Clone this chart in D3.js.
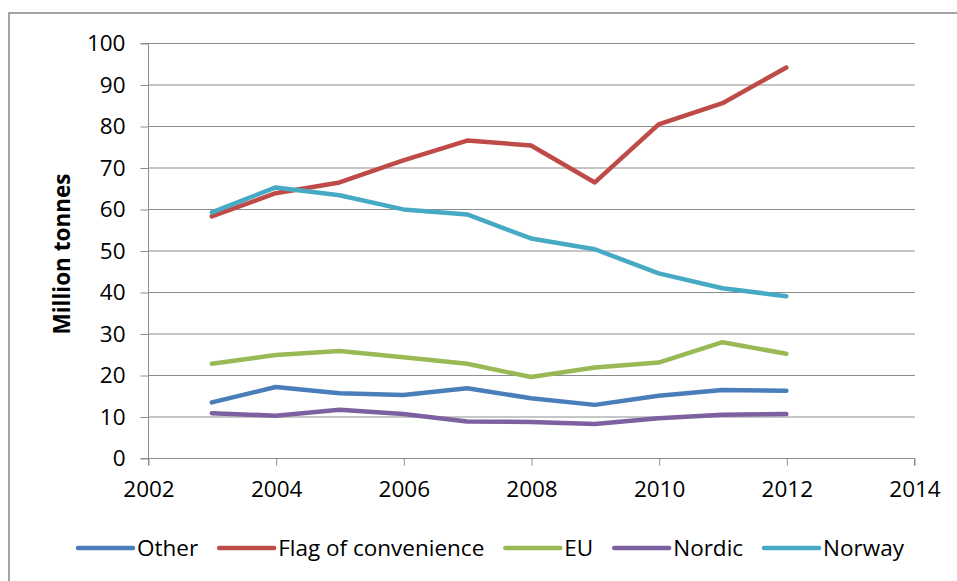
<!DOCTYPE html>
<html lang="en">
<head>
<meta charset="utf-8">
<title>Million tonnes by flag</title>
<script src="https://d3js.org/d3.v7.min.js"></script>
<style>
  body { margin: 0; background: #fff; }
  text { font-family: "Open Sans", sans-serif; fill: #000; }
</style>
</head>
<body>
<svg id="chart" width="957" height="581"></svg>
<script>
// data
var years = [2003, 2004, 2005, 2006, 2007, 2008, 2009, 2010, 2011, 2012];
var other = [13.4, 17.1, 15.6, 15.2, 16.8, 14.4, 12.8, 15.0, 16.4, 16.2];
var flagOfConvenience = [58.2, 63.8, 66.4, 71.7, 76.5, 75.3, 66.4, 80.4, 85.5, 94.1];
var eu = [22.7, 24.8, 25.8, 24.3, 22.7, 19.5, 21.8, 23.0, 27.9, 25.1];
var nordic = [10.8, 10.2, 11.6, 10.6, 8.8, 8.7, 8.2, 9.6, 10.4, 10.6];
var norway = [59.2, 65.2, 63.3, 59.9, 58.7, 52.9, 50.3, 44.5, 40.9, 39.0];

var seriesNames = ['Other', 'Flag of convenience', 'EU', 'Nordic', 'Norway'];
var seriesValues = [other, flagOfConvenience, eu, nordic, norway];
var colors = ['#4a7ebb', '#be4b48', '#98b954', '#7d60a0', '#46aac5'];

var xTicks = [2002, 2004, 2006, 2008, 2010, 2012, 2014];
var yTicks = [0, 10, 20, 30, 40, 50, 60, 70, 80, 90, 100];

var svg = d3.select('#chart');

// outer chart frame
svg.append('rect')
  .attr('x', 9).attr('y', 13)
  .attr('width', 960).attr('height', 580)
  .attr('fill', 'none')
  .attr('stroke', '#868686')
  .attr('stroke-width', 1.5);

var x = d3.scaleLinear().domain([2002, 2014]).range([148, 914]);
var y = d3.scaleLinear().domain([0, 100]).range([458, 43]);

// gridlines
svg.append('g')
  .selectAll('line')
  .data(yTicks.slice(1))
  .enter()
  .append('line')
  .attr('x1', 148).attr('x2', 915)
  .attr('y1', function(d) { return y(d) + 0.5; })
  .attr('y2', function(d) { return y(d) + 0.5; })
  .attr('stroke', '#8c8c8c')
  .attr('stroke-width', 1);

// Y axis
var yAxis = svg.append('g')
  .attr('transform', 'translate(148.5,0.5)')
  .call(d3.axisLeft(y).tickValues(yTicks).tickSize(8).tickPadding(15));

// X axis
var xAxis = svg.append('g')
  .attr('transform', 'translate(0.5,' + (458.5) + ')')
  .call(d3.axisBottom(x).tickValues(xTicks).tickFormat(d3.format('d')).tickSize(7).tickPadding(16));

[yAxis, xAxis].forEach(function(a) {
  a.select('.domain').attr('stroke', '#8c8c8c');
  a.selectAll('.tick line').attr('stroke', '#8c8c8c');
  a.selectAll('text').style('font-size', '22.5px').attr('fill', '#000');
});
yAxis.select('.domain').attr('d', 'M-8,' + y(0) + 'H0V' + y(100) + 'H-8');
xAxis.select('.domain').attr('d', 'M' + x(2002) + ',7V0H' + x(2014) + 'V7');

// Y axis title
svg.append('text')
  .attr('transform', 'translate(70,254) rotate(-90)')
  .style('text-anchor', 'middle')
  .style('font-size', '22.5px')
  .style('font-weight', 'bold')
  .text('Million tonnes');

// series lines
var line = d3.line()
  .x(function(d, i) { return x(years[i]); })
  .y(function(d) { return y(d); });

svg.append('g')
  .selectAll('path')
  .data(seriesValues)
  .enter()
  .append('path')
  .attr('d', line)
  .attr('fill', 'none')
  .attr('stroke', function(d, i) { return colors[i]; })
  .attr('stroke-width', 4.5)
  .attr('stroke-linejoin', 'round')
  .attr('stroke-linecap', 'round');

// legend
var legend = svg.append('g').attr('transform', 'translate(0,548)');
var lx = 78;
seriesNames.forEach(function(name, i) {
  legend.append('line')
    .attr('x1', lx).attr('x2', lx + 55)
    .attr('y1', 0).attr('y2', 0)
    .attr('stroke', colors[i])
    .attr('stroke-width', 4.5)
    .attr('stroke-linecap', 'round');
  var t = legend.append('text')
    .attr('x', lx + 59)
    .attr('y', 0)
    .attr('dy', '0.35em')
    .style('font-size', '22.5px')
    .text(name);
  lx += 59 + t.node().getComputedTextLength() + 21;
});
</script>
</body>
</html>
